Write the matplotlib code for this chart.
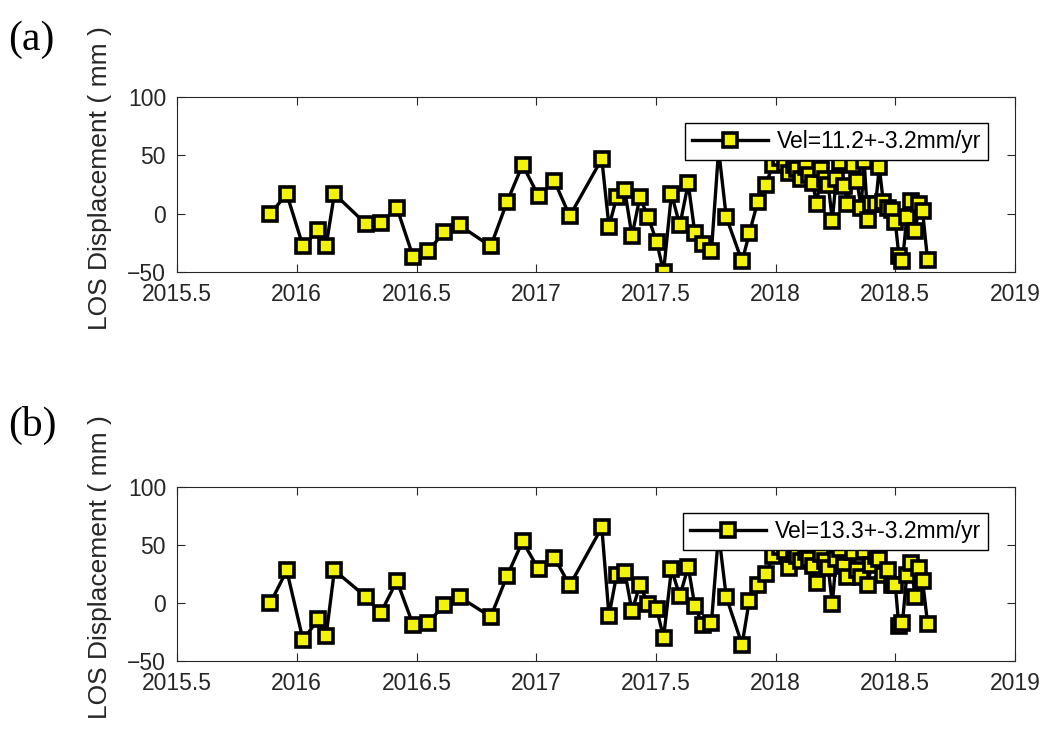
import numpy as np
import matplotlib
matplotlib.use("Agg")
import matplotlib.pyplot as plt

plt.rcParams["font.family"] = ["Liberation Sans", "DejaVu Sans"]

# acquisition dates (decimal years)
dates = np.array([
    2015.890, 2015.958, 2016.026, 2016.090, 2016.122, 2016.157, 2016.290, 2016.350,
    2016.418, 2016.486, 2016.549, 2016.614, 2016.680, 2016.810, 2016.878, 2016.943,
    2017.010, 2017.076, 2017.140, 2017.274, 2017.304, 2017.336, 2017.370, 2017.400,
    2017.433, 2017.468, 2017.503, 2017.532, 2017.565, 2017.600, 2017.635, 2017.663,
    2017.695, 2017.732, 2017.762, 2017.794, 2017.860, 2017.890, 2017.925, 2017.958,
    2017.990, 2018.020, 2018.040, 2018.058, 2018.075, 2018.090, 2018.107, 2018.125,
    2018.140, 2018.155, 2018.172, 2018.190, 2018.205, 2018.220, 2018.237, 2018.253,
    2018.270, 2018.287, 2018.300, 2018.322, 2018.340, 2018.357, 2018.370, 2018.385,
    2018.400, 2018.418, 2018.433, 2018.450, 2018.468, 2018.485, 2018.500, 2018.515,
    2018.530, 2018.548, 2018.565, 2018.583, 2018.600, 2018.614, 2018.635,
])

# LOS displacement, point (a)
disp_a = np.array([
    0, 17, -28, -14, -28, 17, -9, -8,
    5, -37, -32, -16, -10, -28, 10, 42,
    15, 28, -2, 47, -11, 14, 20, -19,
    14, -3, -24, -50, 17, -10, 26, -17,
    -26, -32, 55, -3, -41, -17, 10, 25,
    42, 48, 43, 35, 42, 38, 30, 40,
    33, 26, 8, 38, 30, 25, -6, 30,
    44, 24, 8, 42, 28, 5, 45, -5,
    8, 8, 40, 10, 5, 3, -7, -36,
    -41, -3, 11, -15, 8, 2, -40,
])

# LOS displacement, point (b)
disp_b = np.array([
    0, 28, -32, -14, -29, 28, 5, -9,
    19, -19, -17, -2, 5, -12, 23, 53,
    29, 39, 15, 65, -11, 24, 27, -7,
    15, -1, -5, -30, 29, 6, 31, -3,
    -19, -17, 60, 5, -36, 2, 15, 25,
    40, 48, 45, 30, 42, 40, 36, 44,
    38, 32, 17, 42, 36, 30, -1, 38,
    46, 32, 22, 44, 28, 22, 45, 15,
    33, 40, 38, 24, 28, 15, 15, -20,
    -17, 24, 34, 5, 30, 19, -18,
])

labels = ["Vel=11.2+-3.2mm/yr", "Vel=13.3+-3.2mm/yr"]
panel_names = ["(a)", "(b)"]

xticks = [2015.5, 2016, 2016.5, 2017, 2017.5, 2018, 2018.5, 2019]
xtick_labels = ["2015.5", "2016", "2016.5", "2017", "2017.5", "2018", "2018.5", "2019"]
yticks = [-50, 0, 50, 100]


def draw_panel(ax, values, label):
    ax.plot(dates, values, color="black", linewidth=2.4, marker="s",
            markersize=9.5, markerfacecolor="#f2f20a", markeredgecolor="black",
            markeredgewidth=2.6, label=label)

    ax.set_xlim(2015.5, 2019)
    ax.set_ylim(-50, 100)
    ax.set_xticks(xticks)
    ax.set_xticklabels(xtick_labels)
    ax.set_yticks(yticks)

    ax.tick_params(direction="in", length=6, width=0.8, top=True, right=True,
                   labelsize=16.5, colors="#262626", pad=8)
    for spine in ax.spines.values():
        spine.set_color("#262626")
        spine.set_linewidth(0.8)

    ax.set_ylabel("LOS Displacement ( mm )", fontsize=19, color="#262626")
    ax.yaxis.set_label_coords(-0.078, 0.54)

    leg = ax.legend(loc="upper right", bbox_to_anchor=(0.968, 0.851),
                    borderaxespad=0, fontsize=16.5, handlelength=3.3,
                    fancybox=False, framealpha=1, borderpad=0.3,
                    handletextpad=0.4)
    leg.get_frame().set_edgecolor("black")
    leg.get_frame().set_linewidth(1.0)


def main():
    fig = plt.figure(figsize=(10.48, 7.31), dpi=100)

    ax_a = fig.add_axes([0.169, 0.628, 0.7995, 0.239])
    ax_b = fig.add_axes([0.169, 0.096, 0.7995, 0.238])

    draw_panel(ax_a, disp_a, labels[0])
    draw_panel(ax_b, disp_b, labels[1])

    fig.text(0.008, 0.945, panel_names[0], fontsize=30,
             family=["Liberation Serif", "DejaVu Serif"], va="center")
    fig.text(0.008, 0.418, panel_names[1], fontsize=30,
             family=["Liberation Serif", "DejaVu Serif"], va="center")

    fig.savefig("out.png", dpi=100)
    plt.close(fig)


if __name__ == "__main__":
    main()
